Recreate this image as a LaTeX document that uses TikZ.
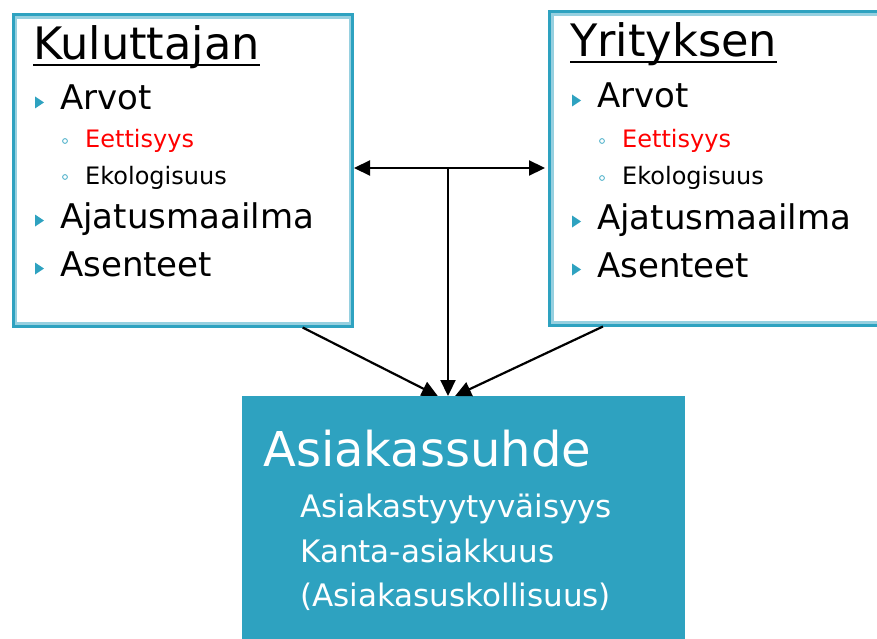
\documentclass[tikz,border=0pt]{standalone}
\usepackage{fontspec}
\setmainfont{DejaVu Sans}
\usetikzlibrary{arrows.meta,calc}
\definecolor{tealc}{RGB}{46,162,192}
\definecolor{lightc}{RGB}{150,208,224}
\definecolor{redc}{RGB}{255,0,0}
\tikzset{
  boxframe/.style={draw=tealc, line width=3pt, rectangle, inner sep=0pt, anchor=north west},
  heading/.style={anchor=base west, inner sep=0pt, font=\fontsize{44.7}{50}\selectfont},
  item/.style={anchor=base west, inner sep=0pt, font=\fontsize{34}{40}\selectfont},
  subitem/.style={anchor=base west, inner sep=0pt, font=\fontsize{24}{28}\selectfont},
  tri/.style={fill=tealc},
  circ/.style={draw=tealc!80, line width=0.9pt},
  arr/.style={line width=2.2pt, -{Triangle[length=16pt,width=15pt]}},
  big/.style={anchor=base west, inner sep=0pt, text=white, font=\fontsize{48}{54}\selectfont},
  bigsub/.style={anchor=base west, inner sep=0pt, text=white, font=\fontsize{31}{36}\selectfont},
}
\newcommand{\tribullet}[2]{\fill[tri] (#1,#2-13.5) -- (#1+9,#2-7.5) -- (#1,#2-1.5) -- cycle;}
\newcommand{\circbullet}[2]{\draw[circ] (#1,#2-7) circle (2.4pt);}
\begin{document}
\begin{tikzpicture}[x=1pt,y=-1pt]
\useasboundingbox (0,0) rectangle (877,639);
% left box
\node[boxframe, minimum width=339.5pt, minimum height=311pt] (kul) at (11.5,13.5) {};
\draw[lightc, line width=2.5pt] ($(kul.north west)+(4.25,4.25)$) rectangle ($(kul.south east)+(-4.25,-4.25)$);
% right box
\node[boxframe, minimum width=345pt, minimum height=313pt] (yri) at (548,10.5) {};
\draw[lightc, line width=2.5pt] ($(yri.north west)+(4.25,4.25)$) rectangle ($(yri.south east)+(-4.25,-4.25)$);
% bottom box
\node[fill=tealc, rectangle, inner sep=0pt, outer sep=0pt, anchor=north west, minimum width=443pt, minimum height=245pt] (asi) at (242,396) {};

% left texts
\node[heading] (h1) at (33,60) {Kuluttajan};
\draw[line width=2.6pt] ($(h1.base west)+(0,5)$) -- ($(h1.base east)+(0,5)$);
\tribullet{35}{110}
\node[item] (l1) at (60,110) {Arvot};
\circbullet{65}{148}
\node[subitem, text=redc] (l2) at (85,148) {Eettisyys};
\circbullet{65}{184}
\node[subitem] (l3) at (85,184) {Ekologisuus};
\tribullet{35}{228}
\node[item] (l4) at (60,228) {Ajatusmaailma};
\tribullet{35}{276}
\node[item] (l5) at (60,276) {Asenteet};

% right texts
\node[heading] (h2) at (570,57) {Yrityksen};
\draw[line width=2.6pt] ($(h2.base west)+(0,5)$) -- ($(h2.base east)+(0,5)$);
\tribullet{572}{108}
\node[item] (r1) at (597,108) {Arvot};
\circbullet{602}{148}
\node[subitem, text=redc] (r2) at (622,148) {Eettisyys};
\circbullet{602}{185}
\node[subitem] (r3) at (622,185) {Ekologisuus};
\tribullet{572}{229}
\node[item] (r4) at (597,229) {Ajatusmaailma};
\tribullet{572}{277}
\node[item] (r5) at (597,277) {Asenteet};

% bottom texts
\node[big] (b0) at (263,466) {Asiakassuhde};
\node[bigsub] (b1) at (300,517) {Asiakastyytyväisyys};
\node[bigsub] (b2) at (300,562) {Kanta-asiakkuus};
\node[bigsub] (b3) at (300,606) {(Asiakasuskollisuus)};

% connectors
\coordinate (j) at (448,168);
\draw[arr] (j) -- (j -| kul.east);
\draw[arr, shorten >=3pt] (j) -- (j -| yri.west);
\draw[arr] (j) -- (j |- asi.north);
\draw[arr] ($(kul.south west)!0.85!(kul.south east)$) -- ($(asi.north west)!0.442!(asi.north east)$);
\draw[arr] ($(yri.south west)!0.158!(yri.south east)$) -- ($(asi.north west)!0.481!(asi.north east)$);
\end{tikzpicture}
\end{document}
